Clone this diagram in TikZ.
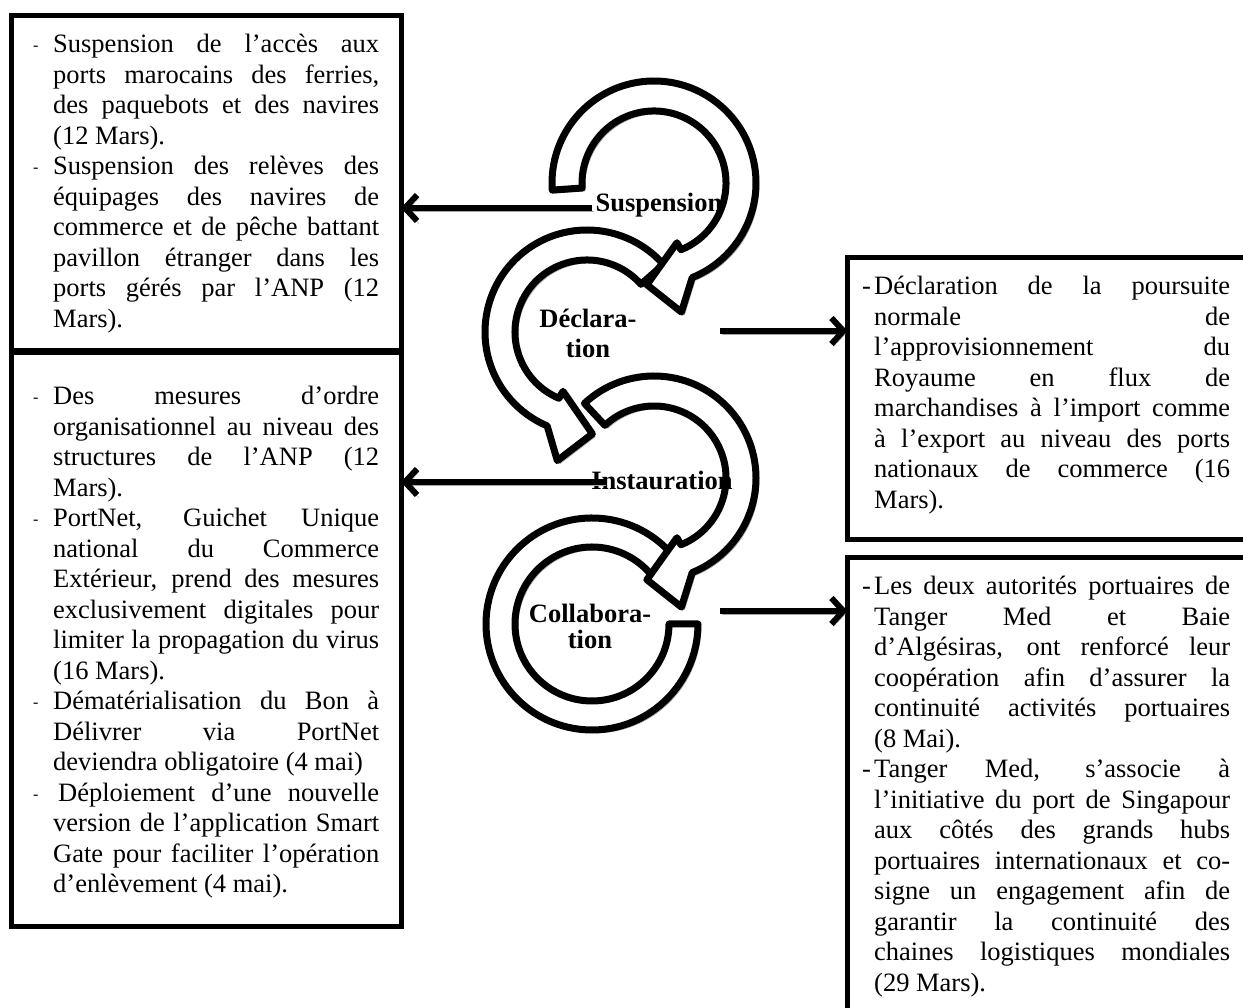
\documentclass[tikz,border=0pt]{standalone}
\usepackage{fontspec}
\setmainfont{Liberation Serif}
\usetikzlibrary{arrows.meta,calc}

\tolerance=10000
\hbadness=10000

\newcommand{\bodyfont}{\fontsize{26.5}{30.5}\selectfont}
% small dash of the left boxes, normal dash of the right ones
\newcommand{\litem}[1]{\noindent\hangindent=20pt\hangafter=1\makebox[20pt][l]{\raisebox{2pt}{\fontsize{16}{16}\selectfont -}}#1\par}
\newcommand{\ritem}[1]{\noindent\hangindent=12pt\hangafter=1\makebox[12pt][l]{-}#1\par}
% ring with head: start angle, end angle, sense (-1 clockwise, 1 counter)
\newcommand{\headring}[3]{%
  (#1:102) arc[start angle=#1, end angle=#2, radius=102]
  -- ({#2+10*(#3)}:132) -- ({#2+26*(#3)}:102) -- ({#2+(#3)}:64) -- (#2:72)
  arc[start angle=#2, end angle=#1, radius=72] -- cycle}

\tikzset{
  ringarrow/.style={fill=white, draw=black, line width=7pt, line join=round,
    preaction={fill=black!35, draw=black!35, transform canvas={shift={(3pt,-3pt)}}}},
  infobox/.style={draw=black, line width=5pt, inner sep=0pt, outer sep=0pt, anchor=north west},
  infotext/.style={anchor=base west, inner sep=0pt, text width=#1, align=justify, font=\bodyfont},
  steplabel/.style={font=\bodyfont\bfseries, inner sep=0pt, align=center},
  link/.style={line width=6pt, -{Straight Barb[length=12pt,width=26pt]},
    preaction={draw=black!35, transform canvas={shift={(2pt,-3pt)}}}}
}

\begin{document}
\begin{tikzpicture}[x=1pt,y=1pt]
  \useasboundingbox (0,0) rectangle (1243,1008);
  \clip (0,0) rectangle (1243,1008);

  % boxes
  \node[infobox, minimum width=389.3pt, minimum height=335pt] (boxS) at (11.7,992.5) {};
  \node[infobox, minimum width=389.3pt, minimum height=573.5pt] (boxI) at (11.7,655) {};
  \node[infobox, minimum width=407pt, minimum height=282pt] (boxD) at (847.5,750.5) {};
  \node[infobox, minimum width=407pt, minimum height=480pt] (boxC) at (847.5,450.5) {};

  \node[infotext=346pt] (txtS) at ([shift={(21.3,-37.5)}]boxS.north west) {%
    \litem{Suspension de l’accès aux\linebreak ports marocains des ferries,\linebreak des paquebots et des navires\linebreak (12 Mars).}%
    \litem{Suspension des relèves des\linebreak équipages des navires de\linebreak commerce et de pêche battant\linebreak pavillon étranger dans les\linebreak ports gérés par l’ANP (12\linebreak Mars).}};
  \node[infotext=346pt] (txtI) at ([shift={(21.3,-52)}]boxI.north west) {%
    \litem{Des mesures d’ordre\linebreak organisationnel au niveau des\linebreak structures de l’ANP (12\linebreak Mars).}%
    \litem{PortNet, Guichet Unique\linebreak national du Commerce\linebreak Extérieur, prend des mesures\linebreak exclusivement digitales pour\linebreak limiter la propagation du virus\linebreak (16 Mars).}%
    \litem{Dématérialisation du Bon à\linebreak Délivrer via PortNet\linebreak deviendra obligatoire (4 mai)}%
    \litem{\hspace*{5pt}Déploiement d’une nouvelle\linebreak version de l’application Smart\linebreak Gate pour faciliter l’opération\linebreak d’enlèvement (4 mai).}};
  \node[infotext=368pt] (txtD) at ([shift={(14.5,-37.5)}]boxD.north west) {%
    \ritem{Déclaration de la poursuite\linebreak normale de\linebreak l’approvisionnement du\linebreak Royaume en flux de\linebreak marchandises à l’import comme\linebreak à l’export au niveau des ports\linebreak nationaux de commerce (16\linebreak Mars).}};
  \node[infotext=368pt] (txtC) at ([shift={(14.5,-37.5)}]boxC.north west) {%
    \ritem{Les deux autorités portuaires de\linebreak Tanger Med et Baie\linebreak d’Algésiras, ont renforcé leur\linebreak coopération afin d\symbol{39}assurer la\linebreak continuité activités portuaires\linebreak (8 Mai).}%
    \ritem{Tanger Med, s’associe à\linebreak l’initiative du port de Singapour\linebreak aux côtés des grands hubs\linebreak portuaires internationaux et co-\linebreak signe un engagement afin de\linebreak garantir la continuité des\linebreak chaines logistiques mondiales\linebreak (29 Mars).}};

  % rings, last one first
  \begin{scope}[shift={(592,384)}]
    \draw[ringarrow] (40:106) arc[start angle=40, end angle=360, radius=106]
      -- (360:77) arc[start angle=360, end angle=40, radius=77] -- cycle;
  \end{scope}
  \begin{scope}[shift={(654,530)}]
    \draw[ringarrow] \headring{133}{-68}{-1};
  \end{scope}
  \begin{scope}[shift={(587,676)}]
    \draw[ringarrow] \headring{41.5}{247}{1};
  \end{scope}
  \begin{scope}[shift={(654,825)}]
    \draw[ringarrow] \headring{184}{-68}{-1};
  \end{scope}

  \node[steplabel, anchor=base] (lblS) at (659,796) {Suspension};
  \node[steplabel] (lblD) at (588,674.5) {Déclara-\\tion};
  \node[steplabel, anchor=base] (lblI) at (662,518) {Instauration};
  \node[steplabel] (lblC) at (590,382) {Collabora-\\[-4.5pt]tion};

  % connectors
  \coordinate (sOut) at ([xshift=-3pt,yshift=4pt]lblS.base west);
  \coordinate (iOut) at ([xshift=13pt,yshift=8pt]lblI.base west);
  \coordinate (dOut) at (720,677);
  \coordinate (cOut) at (720,397);
  \draw[link] (sOut) -- (sOut -| boxS.east);
  \draw[link] (iOut) -- (iOut -| boxI.east);
  \draw[link] (dOut) -- (dOut -| boxD.west);
  \draw[link] (cOut) -- (cOut -| boxC.west);
\end{tikzpicture}
\end{document}
